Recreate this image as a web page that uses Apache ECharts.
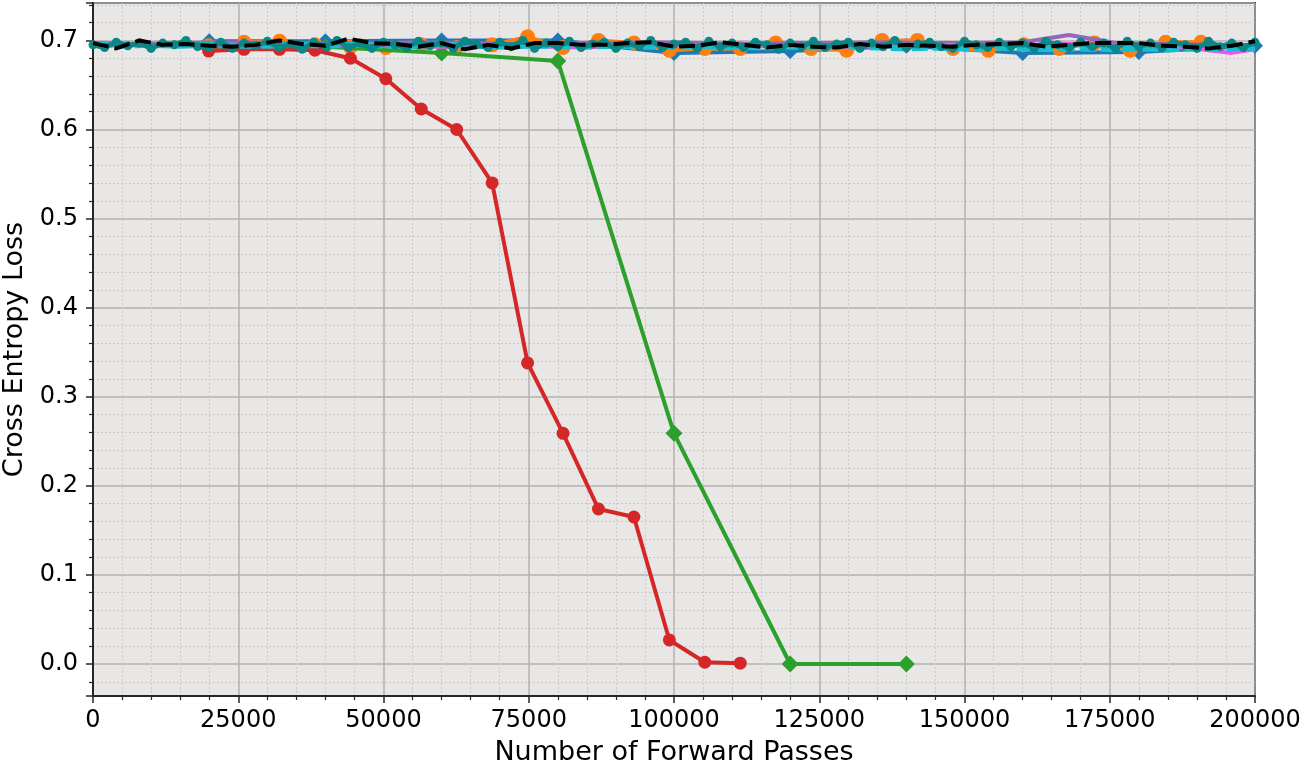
<!DOCTYPE html>
<html>
<head>
<meta charset="utf-8">
<script src="https://cdn.jsdelivr.net/npm/echarts@6/dist/echarts.min.js"></script>
<style>
  html, body { margin: 0; padding: 0; background: #fff; }
  #chart { width: 1309px; height: 765px; }
</style>
</head>
<body>
<div id="chart"></div>
<script>
// x positions (forward passes) for each run
const redX = [19900, 26000, 32100, 38200, 44300, 50400, 56500, 62600, 68700, 74800, 80900, 87000, 93100, 99200, 105300, 111400];
const redY = [0.688, 0.690, 0.690, 0.689, 0.680, 0.657, 0.623, 0.600, 0.540, 0.338, 0.259, 0.174, 0.165, 0.027, 0.002, 0.001];

const greenX = [20000, 40000, 60000, 80000, 100000, 120000, 140000];
const greenY = [0.691, 0.693, 0.686, 0.677, 0.259, 0.0, 0.0];

const blueX = [20000, 40000, 60000, 80000, 100000, 120000, 140000, 160000, 180000, 200000];
const blueY = [0.699, 0.699, 0.700, 0.700, 0.686, 0.688, 0.694, 0.686, 0.687, 0.694];

const orangeX = [19900, 26000, 32100, 38200, 44300, 50400, 56500, 62600, 68700, 74800,
  80900, 87000, 93100, 99200, 105300, 111400, 117500, 123600, 129700, 135800,
  141900, 148000, 154100, 160200, 166300, 172400, 178500, 184600, 190700];
const orangeY = [0.694, 0.698, 0.699, 0.695, 0.693, 0.692, 0.695, 0.692, 0.695, 0.704,
  0.692, 0.700, 0.697, 0.689, 0.691, 0.691, 0.697, 0.691, 0.689, 0.700,
  0.700, 0.691, 0.689, 0.695, 0.691, 0.697, 0.689, 0.698, 0.698];

const purpleX = [0, 8000, 16000, 24000, 32000, 40000, 48000, 56000, 64000, 72000, 80000, 88000, 96000,
  104000, 112000, 120000, 128000, 136000, 144000, 152000, 160000, 168000, 176000, 184000, 192000, 200000];
const purpleY = [0.697, 0.696, 0.697, 0.698, 0.697, 0.696, 0.697, 0.698, 0.697, 0.696, 0.697, 0.697, 0.698,
  0.697, 0.696, 0.697, 0.697, 0.698, 0.697, 0.697, 0.698, 0.706, 0.697, 0.696, 0.695, 0.694];

const brownX = [0, 8000, 16000, 24000, 32000, 40000, 48000, 56000, 64000, 72000, 80000, 88000, 96000,
  104000, 112000, 120000, 128000, 136000, 144000, 152000, 160000, 168000, 176000, 184000, 192000, 200000];
const brownY = [0.694, 0.695, 0.694, 0.693, 0.695, 0.694, 0.695, 0.693, 0.694, 0.695, 0.694, 0.693, 0.695,
  0.694, 0.695, 0.694, 0.693, 0.695, 0.694, 0.695, 0.694, 0.696, 0.694, 0.695, 0.694, 0.695];

const pinkX = [0, 12000, 24000, 36000, 48000, 60000, 72000, 84000, 96000, 108000, 120000,
  132000, 144000, 156000, 168000, 180000, 188000, 196000, 200000];
const pinkY = [0.695, 0.694, 0.695, 0.694, 0.695, 0.693, 0.694, 0.692, 0.695, 0.693, 0.694,
  0.693, 0.695, 0.694, 0.696, 0.694, 0.692, 0.686, 0.690];

const cyanX = [0, 5000, 10000, 15000, 20000, 25000, 30000, 35000, 40000, 45000,
  50000, 55000, 60000, 65000, 70000, 75000, 80000, 85000, 90000, 95000,
  100000, 105000, 110000, 115000, 120000, 125000, 130000, 135000, 140000, 145000,
  150000, 155000, 160000, 165000, 170000, 175000, 180000, 185000, 190000, 195000, 200000];
const cyanY = [0.695, 0.694, 0.695, 0.694, 0.695, 0.694, 0.694, 0.695, 0.694, 0.695,
  0.694, 0.694, 0.695, 0.694, 0.693, 0.694, 0.694, 0.693, 0.694, 0.693,
  0.693, 0.694, 0.693, 0.692, 0.693, 0.692, 0.693, 0.692, 0.691, 0.692,
  0.691, 0.692, 0.691, 0.690, 0.691, 0.690, 0.691, 0.690, 0.691, 0.690, 0.692];

// noisy run, one point every 2000 passes
const tealX = [0, 2000, 4000, 6000, 8000, 10000, 12000, 14000, 16000, 18000,
  20000, 22000, 24000, 26000, 28000, 30000, 32000, 34000, 36000, 38000,
  40000, 42000, 44000, 46000, 48000, 50000, 52000, 54000, 56000, 58000,
  60000, 62000, 64000, 66000, 68000, 70000, 72000, 74000, 76000, 78000,
  80000, 82000, 84000, 86000, 88000, 90000, 92000, 94000, 96000, 98000,
  100000, 102000, 104000, 106000, 108000, 110000, 112000, 114000, 116000, 118000,
  120000, 122000, 124000, 126000, 128000, 130000, 132000, 134000, 136000, 138000,
  140000, 142000, 144000, 146000, 148000, 150000, 152000, 154000, 156000, 158000,
  160000, 162000, 164000, 166000, 168000, 170000, 172000, 174000, 176000, 178000,
  180000, 182000, 184000, 186000, 188000, 190000, 192000, 194000, 196000, 198000, 200000];
const tealY = [0.695, 0.692, 0.698, 0.694, 0.697, 0.691, 0.697, 0.695, 0.700, 0.693,
  0.692, 0.698, 0.691, 0.697, 0.694, 0.699, 0.692, 0.696, 0.690, 0.698,
  0.693, 0.700, 0.692, 0.697, 0.691, 0.698, 0.695, 0.692, 0.699, 0.694,
  0.697, 0.691, 0.699, 0.695, 0.692, 0.698, 0.693, 0.700, 0.691, 0.697,
  0.693, 0.699, 0.692, 0.696, 0.698, 0.691, 0.697, 0.693, 0.700, 0.692,
  0.696, 0.698, 0.691, 0.699, 0.693, 0.697, 0.692, 0.698, 0.695, 0.690,
  0.697, 0.693, 0.699, 0.692, 0.696, 0.698, 0.691, 0.697, 0.693, 0.700,
  0.692, 0.696, 0.698, 0.693, 0.691, 0.699, 0.695, 0.692, 0.698, 0.693,
  0.697, 0.691, 0.699, 0.695, 0.692, 0.698, 0.693, 0.697, 0.691, 0.699,
  0.693, 0.697, 0.692, 0.698, 0.695, 0.691, 0.699, 0.693, 0.697, 0.692, 0.698];

// mean curve (black dashed)
const meanX = [0, 4000, 8000, 12000, 16000, 20000, 24000, 28000, 32000, 36000,
  40000, 44000, 48000, 52000, 56000, 60000, 64000, 68000, 72000, 76000,
  80000, 84000, 88000, 92000, 96000, 100000, 104000, 108000, 112000, 116000,
  120000, 124000, 128000, 132000, 136000, 140000, 144000, 148000, 152000, 156000,
  160000, 164000, 168000, 172000, 176000, 180000, 184000, 188000, 192000, 196000, 200000];
const meanY = [0.697, 0.691, 0.700, 0.695, 0.696, 0.694, 0.693, 0.695, 0.700, 0.696,
  0.694, 0.702, 0.697, 0.696, 0.693, 0.697, 0.690, 0.695, 0.691, 0.697,
  0.697, 0.695, 0.695, 0.697, 0.698, 0.693, 0.694, 0.698, 0.695, 0.692,
  0.695, 0.693, 0.692, 0.696, 0.693, 0.695, 0.694, 0.693, 0.695, 0.696,
  0.697, 0.693, 0.695, 0.697, 0.697, 0.697, 0.694, 0.693, 0.691, 0.694, 0.699];

const font = 'DejaVu Sans';
const ink = '#262626';

function pairs(xs, ys) {
  return xs.map((x, i) => [x, ys[i]]);
}

function lineSeries(name, xs, ys, color, opts) {
  return Object.assign({
    name: name,
    type: 'line',
    data: pairs(xs, ys),
    showSymbol: false,
    showAllSymbol: true,
    symbol: 'none',
    lineStyle: { color: color, width: 4 },
    itemStyle: { color: color },
    emphasis: { disabled: true }
  }, opts || {});
}

const chart = echarts.init(document.getElementById('chart'), null, { renderer: 'canvas' });

const option = {
  animation: false,
  backgroundColor: '#ffffff',
  grid: {
    left: 93, top: 3, width: 1162, height: 693,
    outerBoundsMode: 'none',
    containLabel: false,
    show: true,
    backgroundColor: '#e9e6e6',
    borderColor: ink,
    borderWidth: 2
  },
  xAxis: {
    type: 'value',
    min: 0,
    max: 200000,
    interval: 25000,
    name: 'Number of Forward Passes',
    nameLocation: 'middle',
    nameGap: 43,
    nameTextStyle: { fontFamily: font, fontSize: 27, color: '#000' },
    axisLine: { show: true, onZero: false, lineStyle: { color: ink, width: 2 } },
    axisTick: { show: true, inside: false, length: 7, lineStyle: { color: ink, width: 1.5 } },
    minorTick: { show: true, splitNumber: 5, length: 4, lineStyle: { color: ink, width: 1.2 } },
    axisLabel: {
      fontFamily: font, fontSize: 24, color: '#000', margin: 13,
      formatter: v => String(v)
    },
    splitLine: { show: true, lineStyle: { color: '#b3b0b0', width: 1.5 } },
    minorSplitLine: { show: true, lineStyle: { color: '#cbc8c8', width: 1, type: [2, 2] } }
  },
  yAxis: {
    type: 'value',
    min: -0.0359,
    max: 0.742,
    splitNumber: 8,
    name: 'Cross Entropy Loss',
    nameLocation: 'middle',
    nameGap: 64,
    nameTextStyle: { fontFamily: font, fontSize: 27, color: '#000' },
    axisLine: { show: true, lineStyle: { color: ink, width: 2 } },
    axisTick: { show: true, inside: false, length: 7, lineStyle: { color: ink, width: 1.5 } },
    minorTick: { show: true, splitNumber: 5, length: 4, lineStyle: { color: ink, width: 1.2 } },
    axisLabel: {
      fontFamily: font, fontSize: 24, color: '#000', margin: 15,
      showMinLabel: false, showMaxLabel: false,
      formatter: v => v.toFixed(1)
    },
    splitLine: { show: true, lineStyle: { color: '#b3b0b0', width: 1.5 } },
    minorSplitLine: { show: true, lineStyle: { color: '#cbc8c8', width: 1, type: [2, 2] } }
  },
  series: [
    lineSeries('blue', blueX, blueY, '#1f77b4', { symbol: 'diamond', symbolSize: 16, showSymbol: true, z: 2 }),
    lineSeries('orange', orangeX, orangeY, '#ff7f0e', { symbol: 'circle', symbolSize: 15, showSymbol: true, z: 3 }),
    lineSeries('green', greenX, greenY, '#2ca02c', { symbol: 'diamond', symbolSize: 17, showSymbol: true, z: 4 }),
    lineSeries('red', redX, redY, '#d62728', { symbol: 'circle', symbolSize: 13, showSymbol: true, z: 5 }),
    lineSeries('purple', purpleX, purpleY, '#9467bd', { z: 6 }),
    lineSeries('brown', brownX, brownY, '#8c564b', { z: 6 }),
    lineSeries('pink', pinkX, pinkY, '#f452f0', { z: 6 }),
    lineSeries('cyan', cyanX, cyanY, '#17becf', { z: 7, lineStyle: { color: '#17becf', width: 6, type: [16, 5] } }),
    lineSeries('teal', tealX, tealY, '#0a8787', { z: 8, symbol: 'circle', symbolSize: 9, showSymbol: true, lineStyle: { color: '#0a8787', width: 5 } }),
    lineSeries('mean', meanX, meanY, '#000000', { z: 9, lineStyle: { color: '#000000', width: 4, type: [16, 6] } })
  ]
};

chart.setOption(option);
</script>
</body>
</html>
